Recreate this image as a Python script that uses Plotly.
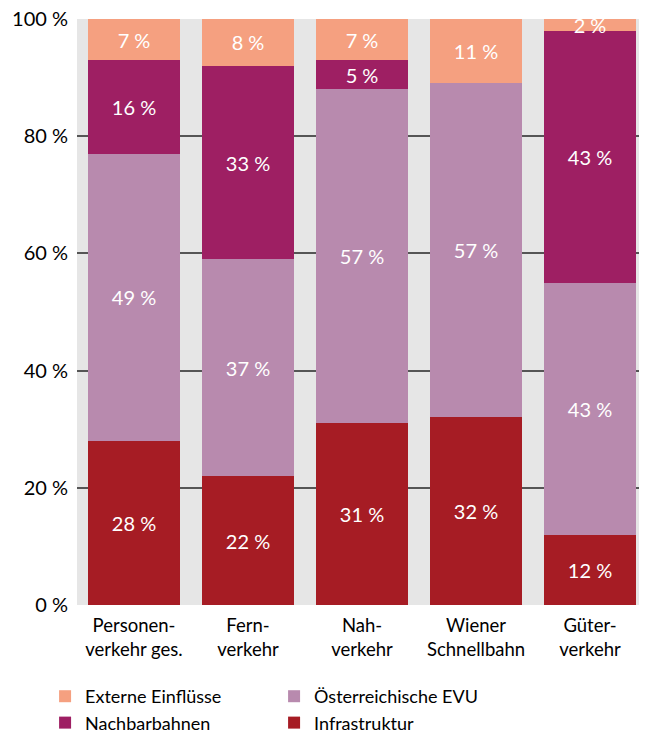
import plotly.graph_objects as go

categories = ["Personen-<br>verkehr ges.", "Fern-<br>verkehr", "Nah-<br>verkehr", "Wiener<br>Schnellbahn", "Güter-<br>verkehr"]
infrastruktur = [28, 22, 31, 32, 12]
oesterreichische_evu = [49, 37, 57, 57, 43]
nachbarbahnen = [16, 33, 5, 0, 43]
externe = [7, 8, 7, 11, 2]
ytick_vals = [0, 20, 40, 60, 80, 100]
ytick_text = ["0 %", "20 %", "40 %", "60 %", "80 %", "100 %"]

series = [
    ("Infrastruktur", infrastruktur, "#A61C24", 4),
    ("Österreichische EVU", oesterreichische_evu, "#B88AAE", 2),
    ("Nachbarbahnen", nachbarbahnen, "#9E1F63", 3),
    ("Externe Einflüsse", externe, "#F5A080", 1),
]

FONT = "Lato"
fig = go.Figure()
for name, vals, color, rank in series:
    fig.add_trace(go.Bar(
        x=categories, y=vals, name=name, marker_color=color, marker_line_width=0,
        text=[f"{v} %" if v > 0 else "" for v in vals],
        textposition="inside", insidetextanchor="middle", constraintext="none",
        textfont=dict(color="white", size=20, family=FONT),
        legendrank=rank, width=0.8,
    ))

fig.update_layout(
    barmode="stack",
    width=639, height=726,
    margin=dict(l=69, r=0, t=11, b=129, autoexpand=False),
    paper_bgcolor="white", plot_bgcolor="#E6E6E6",
    font=dict(family=FONT, size=19, color="black"),
    showlegend=True,
    legend=dict(orientation="h", x=-0.056, xanchor="left", y=-0.1246, yanchor="top",
                entrywidth=184, entrywidthmode="pixels", font=dict(size=18),
                traceorder="normal", itemwidth=30, tracegroupgap=0),
    bargap=0.2,
)
fig.update_yaxes(range=[0, 100], tickvals=ytick_vals, ticktext=ytick_text,
                 showgrid=True, gridcolor="#555555", gridwidth=1.5, zeroline=False,
                 ticks="", ticklabelstandoff=8, fixedrange=True, automargin=False,
                 ticklabeloverflow="allow", tickfont=dict(size=20))
fig.update_xaxes(showgrid=False, ticks="", fixedrange=True, showline=False, automargin=False,
                 ticklabelstandoff=7, ticklabeloverflow="allow", tickfont=dict(size=18.5))

fig.write_html("out.html")
